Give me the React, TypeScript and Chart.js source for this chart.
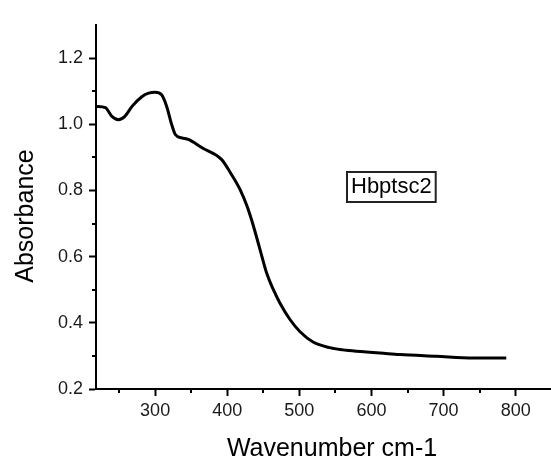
import React, { useEffect, useRef } from "react";
import { Chart, registerables } from "chart.js";

Chart.register(...registerables);

const wavenumbers = [218, 231, 240, 249, 258, 268, 282, 291, 300, 309, 316, 323, 328, 337, 346, 365, 392, 404, 418, 427, 436, 445, 455, 464, 473, 487, 501, 519, 542, 565, 593, 612, 639, 690, 741, 787];
const absorbance = [1.054, 1.05, 1.024, 1.014, 1.024, 1.054, 1.084, 1.094, 1.097, 1.089, 1.054, 0.999, 0.969, 0.959, 0.954, 0.929, 0.894, 0.855, 0.802, 0.755, 0.695, 0.625, 0.548, 0.5, 0.46, 0.41, 0.373, 0.342, 0.325, 0.317, 0.312, 0.309, 0.304, 0.299, 0.294, 0.294];

const xMajorTicks = [300, 400, 500, 600, 700, 800];
const xMinorTicks = [250, 350, 450, 550, 650, 750];
const yMajorTicks = [0.2, 0.4, 0.6, 0.8, 1.0, 1.2];
const yMinorTicks = [0.3, 0.5, 0.7, 0.9, 1.1];

const seriesLabel = "Hbptsc2";
const xTitle = "Wavenumber cm-1";
const yTitle = "Absorbance";

const FONT = "'Liberation Sans', Arial, sans-serif";

const extrasPlugin = {
  id: "extras",
  afterDraw(chart: any) {
    const { ctx, chartArea } = chart;
    const xs = chart.scales.x;
    const ys = chart.scales.y;
    ctx.save();
    ctx.strokeStyle = "#000";
    ctx.lineWidth = 2;
    // minor ticks
    xMinorTicks.forEach((v) => {
      const px = Math.round(xs.getPixelForValue(v));
      ctx.beginPath();
      ctx.moveTo(px, chartArea.bottom);
      ctx.lineTo(px, chartArea.bottom + 4);
      ctx.stroke();
    });
    yMinorTicks.forEach((v) => {
      const py = Math.round(ys.getPixelForValue(v));
      ctx.beginPath();
      ctx.moveTo(chartArea.left, py);
      ctx.lineTo(chartArea.left - 4, py);
      ctx.stroke();
    });
    // axis titles
    ctx.fillStyle = "#000";
    ctx.font = `25px ${FONT}`;
    ctx.textAlign = "center";
    ctx.textBaseline = "alphabetic";
    ctx.fillText(xTitle, chartArea.left + 236, chartArea.bottom + 67);
    ctx.save();
    ctx.translate(chartArea.left - 63, chartArea.top + 191);
    ctx.rotate(-Math.PI / 2);
    ctx.fillText(yTitle, 0, 0);
    ctx.restore();
    // legend box
    ctx.font = `22px ${FONT}`;
    const tw = ctx.measureText(seriesLabel).width;
    const bx = chartArea.left + 251;
    const by = chartArea.top + 147;
    const bw = tw + 8;
    const bh = 30;
    ctx.fillStyle = "#fff";
    ctx.fillRect(bx, by, bw, bh);
    ctx.strokeStyle = "#222";
    ctx.lineWidth = 2;
    ctx.strokeRect(bx, by, bw, bh);
    ctx.fillStyle = "#000";
    ctx.textAlign = "left";
    ctx.fillText(seriesLabel, bx + 4, by + 21);
    ctx.restore();
  },
};

export default function App() {
  const ref = useRef<HTMLCanvasElement | null>(null);
  useEffect(() => {
    if (!ref.current) return;
    const chart = new Chart(ref.current, {
      type: "line",
      data: {
        datasets: [
          {
            label: seriesLabel,
            data: wavenumbers.map((x, i) => ({ x, y: absorbance[i] })),
            borderColor: "#000",
            borderWidth: 3,
            pointRadius: 0,
            fill: false,
            cubicInterpolationMode: "monotone",
          },
        ],
      },
      options: {
        responsive: false,
        animation: false,
        layout: { padding: { top: 25, left: 0, right: 0, bottom: 0 } },
        plugins: { legend: { display: false }, tooltip: { enabled: false } },
        scales: {
          x: {
            type: "linear",
            min: 218,
            max: 849,
            afterBuildTicks: (s: any) => {
              s.ticks = xMajorTicks.map((v) => ({ value: v }));
            },
            afterFit: (s: any) => {
              s.height = 68;
            },
            grid: {
              drawOnChartArea: false,
              drawTicks: true,
              tickLength: 7,
              tickColor: "#000",
              tickWidth: 2,
            },
            border: { display: true, color: "#000", width: 2 },
            ticks: {
              color: "#1a1a1a",
              font: { family: FONT, size: 18 },
              padding: 4,
              maxRotation: 0,
              autoSkip: false,
              callback: (v: any) => String(Math.round(Number(v))),
            },
          },
          y: {
            type: "linear",
            min: 0.2,
            max: 1.3,
            afterBuildTicks: (s: any) => {
              s.ticks = yMajorTicks.map((v) => ({ value: v }));
            },
            afterFit: (s: any) => {
              s.width = 96;
            },
            grid: {
              drawOnChartArea: false,
              drawTicks: true,
              tickLength: 7,
              tickColor: "#000",
              tickWidth: 2,
            },
            border: { display: true, color: "#000", width: 2 },
            ticks: {
              color: "#1a1a1a",
              font: { family: FONT, size: 18 },
              padding: 6,
              autoSkip: false,
              callback: (v: any) => Number(v).toFixed(1),
            },
          },
        },
      },
      plugins: [extrasPlugin],
    });
    return () => chart.destroy();
  }, []);
  return (
    <canvas
      ref={ref}
      width={551}
      height={457}
      style={{ position: "absolute", left: 0, top: 0, display: "block", background: "#fff" }}
    />
  );
}
